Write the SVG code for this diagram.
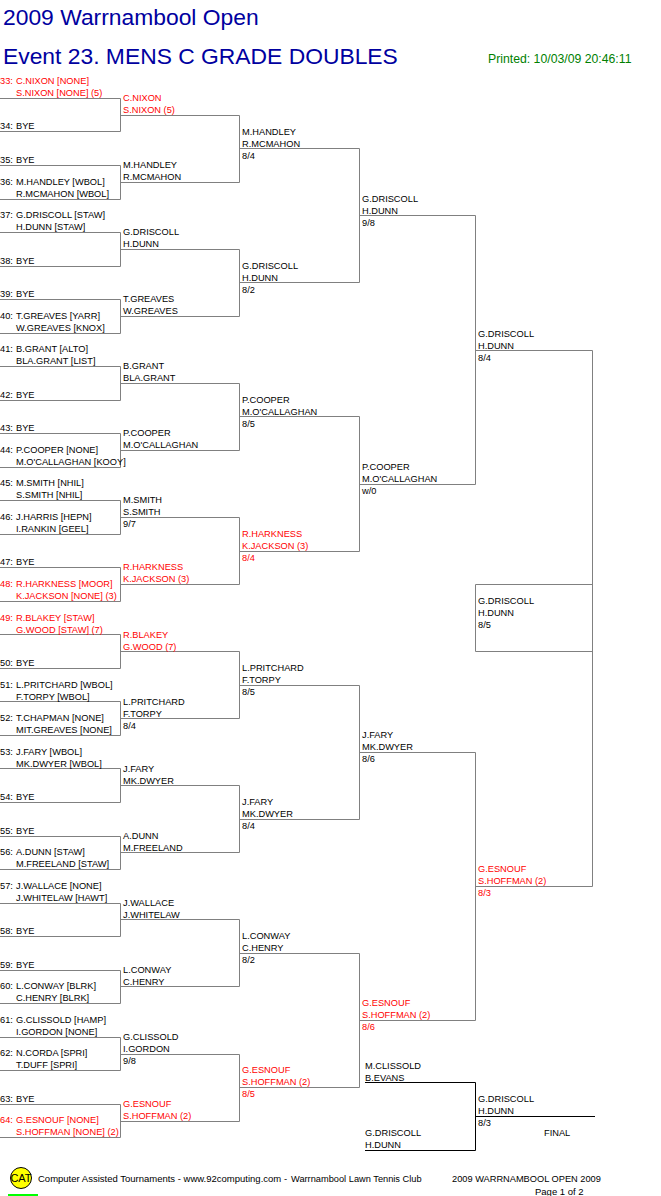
<svg xmlns="http://www.w3.org/2000/svg" width="661" height="1196" viewBox="0 0 661 1196">
<style>
text{font-family:"Liberation Sans",Arial,sans-serif;font-size:9.25px;fill:#000}
.r text{fill:#f00}
text.h{font-size:22.85px;fill:#0000a0}
text.p{font-size:12.25px;fill:#008000}
text.w{font-size:9.5px}
text.cat{font-size:11px;text-anchor:middle}
.c path{fill:none;stroke:#808080;stroke-width:1}
.c .k{stroke:#000}
</style>
<rect width="661" height="1196" fill="#fff"/>
<g id="title">
<text class="h" x="3" y="25">2009 Warrnambool Open</text>
<text class="h" x="3" y="64">Event 23. MENS C GRADE DOUBLES</text>
<text class="p" x="488" y="63">Printed: 10/03/09 20:46:11</text>
</g>
<g id="connectors" class="c">
<path d="M0 98.5H120.5V131.5H0M0 165.5H120.5V199.5H0M0 232.5H120.5V266.5H0M0 299.5H120.5V333.5H0M0 366.5H120.5V400.5H0M0 433.5H120.5V467.5H0M0 500.5H120.5V534.5H0M0 567.5H120.5V601.5H0M0 634.5H120.5V668.5H0M0 701.5H120.5V735.5H0M0 768.5H120.5V802.5H0M0 836.5H120.5V869.5H0M0 903.5H120.5V936.5H0M0 970.5H120.5V1003.5H0M0 1037.5H120.5V1070.5H0M0 1104.5H120.5V1137.5H0"/>
<path d="M120.5 115.5H239.5V182.5H120.5M120.5 249.5H239.5V316.5H120.5M120.5 383.5H239.5V450.5H120.5M120.5 517.5H239.5V584.5H120.5M120.5 651.5H239.5V718.5H120.5M120.5 785.5H239.5V852.5H120.5M120.5 919.5H239.5V986.5H120.5M120.5 1054.5H239.5V1121.5H120.5"/>
<path d="M239.5 148.5H359.5V282.5H239.5M239.5 416.5H359.5V551.5H239.5M239.5 685.5H359.5V819.5H239.5M239.5 953.5H359.5V1087.5H239.5"/>
<path d="M359.5 215.5H475.5V484.5H359.5M359.5 752.5H475.5V1020.5H359.5"/>
<path d="M475.5 350.5H592.5V886.5H475.5M592.5 584.5H475.5V651.5H592.5"/>
<path class="k" d="M365 1082.5H475.5V1150.5H365M475.5 1116.5H595"/>
</g>
<g id="e33" class="r"><text x="0" y="84">33:</text><text x="16" y="84">C.NIXON [NONE]</text><text x="16" y="96">S.NIXON [NONE] (5)</text></g>
<g id="e34"><text x="0" y="129">34:</text><text x="16" y="129">BYE</text></g>
<g id="e35"><text x="0" y="163">35:</text><text x="16" y="163">BYE</text></g>
<g id="e36"><text x="0" y="185">36:</text><text x="16" y="185">M.HANDLEY [WBOL]</text><text x="16" y="197">R.MCMAHON [WBOL]</text></g>
<g id="e37"><text x="0" y="218">37:</text><text x="16" y="218">G.DRISCOLL [STAW]</text><text x="16" y="230">H.DUNN [STAW]</text></g>
<g id="e38"><text x="0" y="264">38:</text><text x="16" y="264">BYE</text></g>
<g id="e39"><text x="0" y="297">39:</text><text x="16" y="297">BYE</text></g>
<g id="e40"><text x="0" y="319">40:</text><text x="16" y="319">T.GREAVES [YARR]</text><text x="16" y="331">W.GREAVES [KNOX]</text></g>
<g id="e41"><text x="0" y="352">41:</text><text x="16" y="352">B.GRANT [ALTO]</text><text x="16" y="364">BLA.GRANT [LIST]</text></g>
<g id="e42"><text x="0" y="398">42:</text><text x="16" y="398">BYE</text></g>
<g id="e43"><text x="0" y="431">43:</text><text x="16" y="431">BYE</text></g>
<g id="e44"><text x="0" y="453">44:</text><text x="16" y="453">P.COOPER [NONE]</text><text x="16" y="465">M.O'CALLAGHAN [KOOY]</text></g>
<g id="e45"><text x="0" y="486">45:</text><text x="16" y="486">M.SMITH [NHIL]</text><text x="16" y="498">S.SMITH [NHIL]</text></g>
<g id="e46"><text x="0" y="520">46:</text><text x="16" y="520">J.HARRIS [HEPN]</text><text x="16" y="532">I.RANKIN [GEEL]</text></g>
<g id="e47"><text x="0" y="565">47:</text><text x="16" y="565">BYE</text></g>
<g id="e48" class="r"><text x="0" y="587">48:</text><text x="16" y="587">R.HARKNESS [MOOR]</text><text x="16" y="599">K.JACKSON [NONE] (3)</text></g>
<g id="e49" class="r"><text x="0" y="621">49:</text><text x="16" y="621">R.BLAKEY [STAW]</text><text x="16" y="633">G.WOOD [STAW] (7)</text></g>
<g id="e50"><text x="0" y="666">50:</text><text x="16" y="666">BYE</text></g>
<g id="e51"><text x="0" y="688">51:</text><text x="16" y="688">L.PRITCHARD [WBOL]</text><text x="16" y="700">F.TORPY [WBOL]</text></g>
<g id="e52"><text x="0" y="721">52:</text><text x="16" y="721">T.CHAPMAN [NONE]</text><text x="16" y="733">MIT.GREAVES [NONE]</text></g>
<g id="e53"><text x="0" y="755">53:</text><text x="16" y="755">J.FARY [WBOL]</text><text x="16" y="767">MK.DWYER [WBOL]</text></g>
<g id="e54"><text x="0" y="800">54:</text><text x="16" y="800">BYE</text></g>
<g id="e55"><text x="0" y="834">55:</text><text x="16" y="834">BYE</text></g>
<g id="e56"><text x="0" y="855">56:</text><text x="16" y="855">A.DUNN [STAW]</text><text x="16" y="867">M.FREELAND [STAW]</text></g>
<g id="e57"><text x="0" y="889">57:</text><text x="16" y="889">J.WALLACE [NONE]</text><text x="16" y="901">J.WHITELAW [HAWT]</text></g>
<g id="e58"><text x="0" y="934">58:</text><text x="16" y="934">BYE</text></g>
<g id="e59"><text x="0" y="968">59:</text><text x="16" y="968">BYE</text></g>
<g id="e60"><text x="0" y="989">60:</text><text x="16" y="989">L.CONWAY [BLRK]</text><text x="16" y="1001">C.HENRY [BLRK]</text></g>
<g id="e61"><text x="0" y="1023">61:</text><text x="16" y="1023">G.CLISSOLD [HAMP]</text><text x="16" y="1035">I.GORDON [NONE]</text></g>
<g id="e62"><text x="0" y="1056">62:</text><text x="16" y="1056">N.CORDA [SPRI]</text><text x="16" y="1068">T.DUFF [SPRI]</text></g>
<g id="e63"><text x="0" y="1102">63:</text><text x="16" y="1102">BYE</text></g>
<g id="e64" class="r"><text x="0" y="1123">64:</text><text x="16" y="1123">G.ESNOUF [NONE]</text><text x="16" y="1135">S.HOFFMAN [NONE] (2)</text></g>
<g id="r2-1" class="r"><text x="123" y="101">C.NIXON</text><text x="123" y="113">S.NIXON (5)</text></g>
<g id="r2-2"><text x="123" y="168">M.HANDLEY</text><text x="123" y="180">R.MCMAHON</text></g>
<g id="r2-3"><text x="123" y="235">G.DRISCOLL</text><text x="123" y="247">H.DUNN</text></g>
<g id="r2-4"><text x="123" y="302">T.GREAVES</text><text x="123" y="314">W.GREAVES</text></g>
<g id="r2-5"><text x="123" y="369">B.GRANT</text><text x="123" y="381">BLA.GRANT</text></g>
<g id="r2-6"><text x="123" y="436">P.COOPER</text><text x="123" y="448">M.O'CALLAGHAN</text></g>
<g id="r2-7"><text x="123" y="503">M.SMITH</text><text x="123" y="515">S.SMITH</text><text x="123" y="527">9/7</text></g>
<g id="r2-8" class="r"><text x="123" y="570">R.HARKNESS</text><text x="123" y="582">K.JACKSON (3)</text></g>
<g id="r2-9" class="r"><text x="123" y="638">R.BLAKEY</text><text x="123" y="650">G.WOOD (7)</text></g>
<g id="r2-10"><text x="123" y="705">L.PRITCHARD</text><text x="123" y="717">F.TORPY</text><text x="123" y="729">8/4</text></g>
<g id="r2-11"><text x="123" y="772">J.FARY</text><text x="123" y="784">MK.DWYER</text></g>
<g id="r2-12"><text x="123" y="839">A.DUNN</text><text x="123" y="851">M.FREELAND</text></g>
<g id="r2-13"><text x="123" y="906">J.WALLACE</text><text x="123" y="918">J.WHITELAW</text></g>
<g id="r2-14"><text x="123" y="973">L.CONWAY</text><text x="123" y="985">C.HENRY</text></g>
<g id="r2-15"><text x="123" y="1040">G.CLISSOLD</text><text x="123" y="1052">I.GORDON</text><text x="123" y="1064">9/8</text></g>
<g id="r2-16" class="r"><text x="123" y="1107">G.ESNOUF</text><text x="123" y="1119">S.HOFFMAN (2)</text></g>
<g id="r3-1"><text x="242" y="135">M.HANDLEY</text><text x="242" y="147">R.MCMAHON</text><text x="242" y="159">8/4</text></g>
<g id="r3-2"><text x="242" y="269">G.DRISCOLL</text><text x="242" y="281">H.DUNN</text><text x="242" y="293">8/2</text></g>
<g id="r3-3"><text x="242" y="403">P.COOPER</text><text x="242" y="415">M.O'CALLAGHAN</text><text x="242" y="427">8/5</text></g>
<g id="r3-4" class="r"><text x="242" y="537">R.HARKNESS</text><text x="242" y="549">K.JACKSON (3)</text><text x="242" y="561">8/4</text></g>
<g id="r3-5"><text x="242" y="671">L.PRITCHARD</text><text x="242" y="683">F.TORPY</text><text x="242" y="695">8/5</text></g>
<g id="r3-6"><text x="242" y="805">J.FARY</text><text x="242" y="817">MK.DWYER</text><text x="242" y="829">8/4</text></g>
<g id="r3-7"><text x="242" y="939">L.CONWAY</text><text x="242" y="951">C.HENRY</text><text x="242" y="963">8/2</text></g>
<g id="r3-8" class="r"><text x="242" y="1073">G.ESNOUF</text><text x="242" y="1085">S.HOFFMAN (2)</text><text x="242" y="1097">8/5</text></g>
<g id="r4-1"><text x="362" y="202">G.DRISCOLL</text><text x="362" y="214">H.DUNN</text><text x="362" y="226">9/8</text></g>
<g id="r4-2"><text x="362" y="470">P.COOPER</text><text x="362" y="482">M.O'CALLAGHAN</text><text x="362" y="494">w/0</text></g>
<g id="r4-3"><text x="362" y="738">J.FARY</text><text x="362" y="750">MK.DWYER</text><text x="362" y="762">8/6</text></g>
<g id="r4-4" class="r"><text x="362" y="1006">G.ESNOUF</text><text x="362" y="1018">S.HOFFMAN (2)</text><text x="362" y="1030">8/6</text></g>
<g id="r5-1"><text x="478" y="337">G.DRISCOLL</text><text x="478" y="349">H.DUNN</text><text x="478" y="361">8/4</text></g>
<g id="r5-2"><text x="478" y="604">G.DRISCOLL</text><text x="478" y="616">H.DUNN</text><text x="478" y="628">8/5</text></g>
<g id="r5-3" class="r"><text x="478" y="872">G.ESNOUF</text><text x="478" y="884">S.HOFFMAN (2)</text><text x="478" y="896">8/3</text></g>
<g id="f1"><text x="365" y="1069">M.CLISSOLD</text><text x="365" y="1081">B.EVANS</text></g>
<g id="f2"><text x="365" y="1136">G.DRISCOLL</text><text x="365" y="1148">H.DUNN</text></g>
<g id="f3"><text x="478" y="1102">G.DRISCOLL</text><text x="478" y="1114">H.DUNN</text><text x="478" y="1126">8/3</text><text x="544" y="1136">FINAL</text></g>
<g id="footer">
<circle cx="21" cy="1178" r="10.5" fill="#ff0" stroke="#000"/>
<text class="cat" x="21" y="1182">CAT</text>
<rect x="8" y="1194" width="30" height="2" fill="#0f0"/>
<text class="w" x="38" y="1182">Computer Assisted Tournaments - www.92computing.com -</text>
<text x="291" y="1182">Warrnambool Lawn Tennis Club</text>
<text x="452" y="1182">2009 WARRNAMBOOL OPEN 2009</text>
<text class="w" x="535" y="1195">Page 1 of 2</text>
</g>
</svg>
